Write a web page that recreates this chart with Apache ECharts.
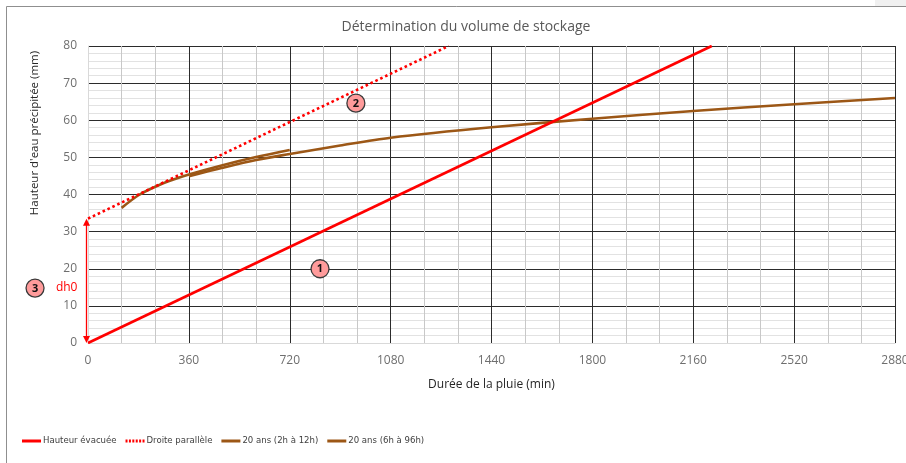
<!DOCTYPE html>
<html><head><meta charset="utf-8">
<script src="https://cdn.jsdelivr.net/npm/echarts@6/dist/echarts.min.js"></script>
<style>html,body{margin:0;padding:0;background:#fff;overflow:hidden}#c{width:906px;height:463px}</style>
</head><body><div id="c"></div>
<script>
const titleText = 'Détermination du volume de stockage';
const xAxisName = 'Durée de la pluie (min)';
const yAxisName = "Hauteur d'eau précipitée (mm)";
const seriesNames = ['Hauteur évacuée', 'Droite parallèle', '20 ans (2h à 12h)', '20 ans (6h à 96h)'];
const evacTime = [0, 2226];
const evacHeight = [0, 80];
const paraTime = [0, 1287];
const paraHeight = [33.5, 80];
const c1Time = [120, 180, 240, 300, 360, 480, 600, 720];
const c1Height = [36.4, 39.8, 42.1, 43.9, 45.4, 47.9, 50.1, 52.0];
const c2Time = [360, 480, 600, 720, 900, 1080, 1440, 1800, 2160, 2520, 2880];
const c2Height = [44.9, 47.2, 49.3, 50.9, 53.2, 55.3, 58.1, 60.4, 62.5, 64.3, 66.0];
const xMin = 0, xMax = 2880, xStep = 360;
const yMin = 0, yMax = 80, yStep = 10;
const dh0 = 33.5;
const markers = [{label: '1', t: 828, h: 20}, {label: '2', t: 956, h: 64.6}, {label: '3', t: -189, h: 14.8}];
const dh0Label = {text: 'dh0', t: -76, h: 14.8};
const arrowTime = -7;

const zip = (a, b) => a.map((v, i) => [v, b[i]]);
const RED = '#ff0000', BROWN = '#9c5716';
const FONT = 'Open Sans';

function hasFont(name) {
  const ctx = document.createElement('canvas').getContext('2d');
  const s = 'Hauteur évacuée mmmWWWiiilll 0123';
  ctx.font = '20px monospace';
  const a = ctx.measureText(s).width;
  ctx.font = '20px "' + name + '", monospace';
  return Math.abs(ctx.measureText(s).width - a) > 0.5;
}
const legendFont = hasFont('Liberation Sans Narrow') ? '"Liberation Sans Narrow"'
  : (hasFont('DejaVu Sans Condensed') ? '"DejaVu Sans Condensed"' : '"Liberation Sans"');

const SOLID_ICON = 'path://M0,0H19V3H0Z';
const DOT_ICON = 'path://M0,0h2v3h-2zM3.4,0h2v3h-2zM6.8,0h2v3h-2zM10.2,0h2v3h-2zM13.6,0h2v3h-2zM17,0h2v3h-2z';

const chart = echarts.init(document.getElementById('c'), null, {renderer: 'canvas'});
const plainLabel = v => String(v);
const axisCommon = {
  type: 'value',
  axisLine: {show: true, lineStyle: {color: '#d9d9d9', width: 1}},
  axisTick: {show: false},
  splitLine: {show: true, showMinLine: false, lineStyle: {color: '#2b2b2b', width: 1}}
};
chart.setOption({
  animation: false,
  title: {
    text: titleText, left: 461, top: 15, textAlign: 'center',
    textStyle: {color: '#595959', fontSize: 14, fontWeight: 'normal', fontFamily: FONT}
  },
  grid: {left: 88, right: 11, top: 46, bottom: 120, containLabel: false, outerBoundsMode: 'none'},
  legend: {
    left: 17, top: 431, itemWidth: 19, itemHeight: 3, itemGap: 9,
    itemStyle: {borderWidth: 0},
    textStyle: {color: '#404040', fontSize: 9.5, fontFamily: legendFont, padding: [0, 0, 0, -3]},
    data: [
      {name: seriesNames[0], icon: SOLID_ICON},
      {name: seriesNames[1], icon: DOT_ICON},
      {name: seriesNames[2], icon: SOLID_ICON},
      {name: seriesNames[3], icon: SOLID_ICON}
    ]
  },
  xAxis: Object.assign({}, axisCommon, {
    min: xMin, max: xMax, interval: xStep,
    name: xAxisName, nameLocation: 'middle', nameGap: 36,
    nameTextStyle: {color: '#262626', fontSize: 12, fontFamily: FONT},
    axisLabel: {color: '#6e6e6e', fontSize: 12, fontFamily: FONT, margin: 12, formatter: plainLabel},
    minorTick: {show: false, splitNumber: 3},
    minorSplitLine: {show: true, lineStyle: {color: '#c8c8c8', width: 1}}
  }),
  yAxis: Object.assign({}, axisCommon, {
    min: yMin, max: yMax, interval: yStep,
    axisLabel: {color: '#6e6e6e', fontSize: 12, fontFamily: FONT, margin: 11, formatter: plainLabel},
    minorTick: {show: false, splitNumber: 5},
    minorSplitLine: {show: true, lineStyle: {color: '#e2e2e2', width: 1}}
  }),
  series: [
    {name: seriesNames[0], type: 'line', data: zip(evacTime, evacHeight), symbol: 'none',
     lineStyle: {color: RED, width: 2.6}, itemStyle: {color: RED}, z: 3},
    {name: seriesNames[1], type: 'line', data: zip(paraTime, paraHeight), symbol: 'none',
     lineStyle: {color: RED, width: 2.6, type: [2.6, 2.8]}, itemStyle: {color: RED}, z: 3},
    {name: seriesNames[2], type: 'line', data: zip(c1Time, c1Height), symbol: 'none', smooth: 0.3,
     lineStyle: {color: BROWN, width: 2.6}, itemStyle: {color: BROWN}, z: 2},
    {name: seriesNames[3], type: 'line', data: zip(c2Time, c2Height), symbol: 'none', smooth: 0.3,
     lineStyle: {color: BROWN, width: 2.6}, itemStyle: {color: BROWN}, z: 2}
  ]
});

const px = (t, h) => chart.convertToPixel({gridIndex: 0}, [t, h]);
const g = [];
g.push({type: 'rect', id: 'border', silent: true, shape: {x: 6.5, y: 6.5, width: 1000, height: 1000},
        style: {fill: 'none', stroke: '#8f8f8f', lineWidth: 1}, z: 0});
g.push({type: 'rect', id: 'tr', silent: true, shape: {x: 875, y: 0, width: 31, height: 6},
        style: {fill: '#f0f0f0'}, z: 0});
g.push({type: 'text', id: 'yname', x: 35, y: 133, rotation: Math.PI / 2,
        style: {text: yAxisName, fill: '#262626', font: '11.5px "Open Sans"', align: 'center', verticalAlign: 'middle'}});
const a0 = px(arrowTime, 0), a1 = px(arrowTime, dh0);
const ax = Math.round(a0[0]) + 0.5;
g.push({type: 'line', id: 'arrowLine', shape: {x1: ax, y1: a0[1] - 6, x2: ax, y2: a1[1] + 6},
        style: {stroke: RED, lineWidth: 1.3}, z: 10});
g.push({type: 'polygon', id: 'arrowB', shape: {points: [[ax, a0[1]], [ax - 3.5, a0[1] - 7], [ax + 3.5, a0[1] - 7]]},
        style: {fill: RED}, z: 10});
g.push({type: 'polygon', id: 'arrowT', shape: {points: [[ax, a1[1]], [ax - 3.5, a1[1] + 7], [ax + 3.5, a1[1] + 7]]},
        style: {fill: RED}, z: 10});
const dp = px(dh0Label.t, dh0Label.h);
g.push({type: 'text', id: 'dh0', x: dp[0], y: dp[1],
        style: {text: dh0Label.text, fill: RED, font: '12px "Open Sans"', align: 'center', verticalAlign: 'middle'}, z: 10});
markers.forEach((m, i) => {
  const p = px(m.t, m.h);
  g.push({type: 'circle', id: 'mc' + i, shape: {cx: p[0], cy: p[1], r: 9},
          style: {fill: '#ff9b9b', stroke: '#3a3a3a', lineWidth: 1.3}, z: 10});
  g.push({type: 'text', id: 'mt' + i, x: p[0], y: p[1] + 0.5,
          style: {text: m.label, fill: '#111', font: 'bold 11px "Open Sans"', align: 'center', verticalAlign: 'middle'}, z: 11});
});
chart.setOption({graphic: g});
</script>
</body></html>
